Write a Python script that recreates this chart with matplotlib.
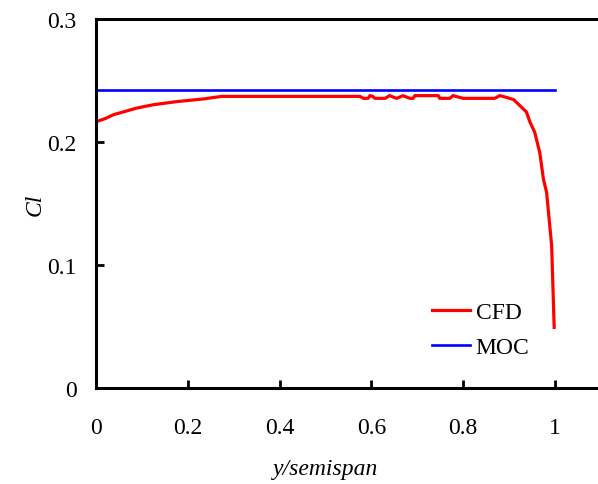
import matplotlib.pyplot as plt

# spanwise lift distribution: CFD result vs. MOC estimate
span_cfd = [0.0, 0.02, 0.038, 0.06, 0.089, 0.125, 0.175, 0.234, 0.274, 0.40,
            0.575, 0.583, 0.593, 0.597, 0.603, 0.608, 0.630, 0.640, 0.648, 0.655,
            0.662, 0.669, 0.677, 0.684, 0.691, 0.695, 0.746, 0.749, 0.771, 0.778,
            0.790, 0.800, 0.869, 0.880, 0.895, 0.910, 0.924, 0.938, 0.946, 0.956,
            0.967, 0.975, 0.982, 0.993, 0.9985]
cl_cfd = [0.2165, 0.2190, 0.2222, 0.2245, 0.2276, 0.2303, 0.2328, 0.2350, 0.2371, 0.2371,
          0.2371, 0.2355, 0.2355, 0.2377, 0.2371, 0.2355, 0.2355, 0.2377, 0.2365, 0.2355,
          0.2365, 0.2377, 0.2365, 0.2355, 0.2355, 0.2377, 0.2377, 0.2355, 0.2355, 0.2377,
          0.2365, 0.2355, 0.2355, 0.2377, 0.2362, 0.2345, 0.2295, 0.2244, 0.2160, 0.2080,
          0.1916, 0.1700, 0.1590, 0.1157, 0.0493]

span_moc = [0.0, 1.0]
cl_moc = [0.2423, 0.2423]

xticks = [0, 0.2, 0.4, 0.6, 0.8, 1.0]
xtick_labels = ["0", "0.2", "0.4", "0.6", "0.8", "1"]
yticks = [0, 0.1, 0.2, 0.3]
ytick_labels = ["0", "0.1", "0.2", "0.3"]

plt.rcParams['font.family'] = ['Liberation Serif', 'DejaVu Serif']

fig = plt.figure(figsize=(5.98, 4.85), dpi=100)
ax = fig.add_axes([96 / 598, 1 - 389 / 485, 1 - 96 / 598, (389 - 20) / 485])

ax.plot(span_cfd, cl_cfd, color='#ff0000', lw=2.3, label='CFD', solid_joinstyle='round')
ax.plot(span_moc, cl_moc, color='#0000ff', lw=1.9, label='MOC')

ax.set_xlim(0, 1.094)
ax.set_ylim(0, 0.3)
ax.set_xticks(xticks)
ax.set_xticklabels(xtick_labels)
ax.set_yticks(yticks)
ax.set_yticklabels(ytick_labels)

ax.spines['right'].set_visible(False)
for side in ['left', 'top', 'bottom']:
    ax.spines[side].set_linewidth(2.2)
ax.tick_params(direction='in', length=6, width=2, labelsize=17)
ax.tick_params(axis='x', pad=21)
ax.tick_params(axis='y', pad=14)

ax.set_xlabel('y/semispan', fontsize=17, style='italic')
ax.xaxis.set_label_coords(0.5 / 1.094, -0.19)
ax.set_ylabel('Cl', fontsize=17, style='italic')
ax.yaxis.set_label_coords(-0.1, 0.5)

ax.legend(loc='lower left', bbox_to_anchor=(0.669, 0.08), frameon=False,
          fontsize=17, handlelength=1.6, handletextpad=0.25, labelspacing=0.57,
          borderpad=0, borderaxespad=0)

fig.savefig('out.png', dpi=100)
